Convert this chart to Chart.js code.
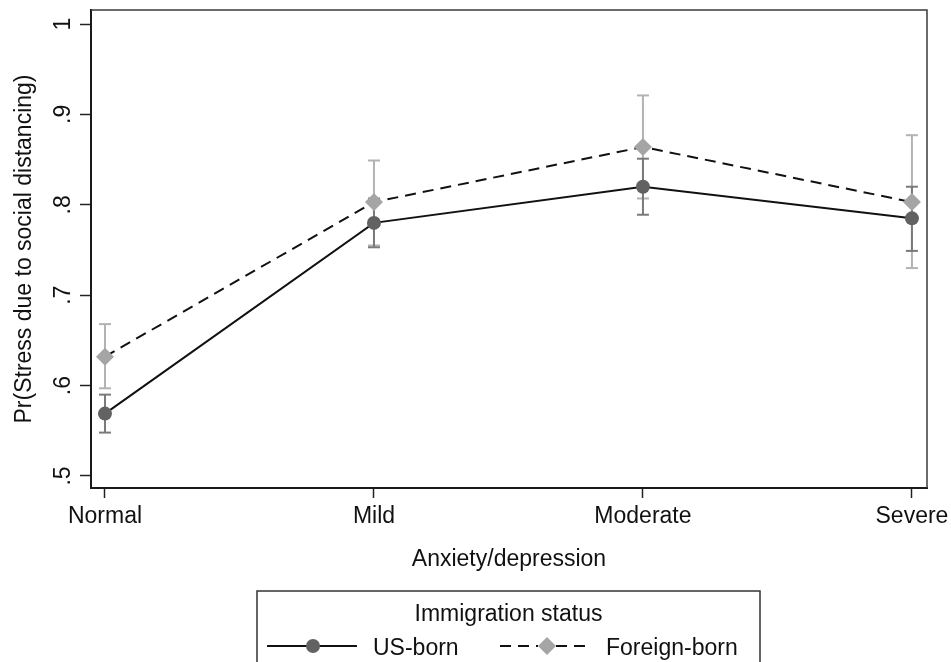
<!DOCTYPE html>
<html>
<head>
<meta charset="utf-8">
<script src="https://cdn.jsdelivr.net/npm/chart.js@4/dist/chart.umd.min.js"></script>
<style>
  html, body { margin: 0; padding: 0; background: #fff; }
  #wrap { width: 951px; height: 662px; position: relative; }
</style>
</head>
<body>
<div id="wrap"><canvas id="c" width="951" height="662"></canvas></div>
<script>
// Predicted probability of stress by anxiety/depression level and immigration status
const categories = ['Normal', 'Mild', 'Moderate', 'Severe'];
const usBorn     = [0.569, 0.780, 0.820, 0.785];
const usBornLo   = [0.548, 0.753, 0.789, 0.749];
const usBornHi   = [0.590, 0.807, 0.851, 0.820];
const foreignBorn   = [0.632, 0.803, 0.864, 0.803];
const foreignBornLo = [0.597, 0.755, 0.807, 0.730];
const foreignBornHi = [0.668, 0.849, 0.921, 0.877];
const yTicks = [0.5, 0.6, 0.7, 0.8, 0.9, 1];
const seriesNames = ['US-born', 'Foreign-born'];
const legendTitle = 'Immigration status';
const xTitle = 'Anxiety/depression';
const yTitle = 'Pr(Stress due to social distancing)';

const FONT = '"Liberation Sans", Arial, Helvetica, sans-serif';
const US_MARK = '#626262';
const FB_MARK = '#a5a5a5';
const US_CI = '#7a7a7a';
const FB_CI = '#b3b3b3';

function points(vals) {
  return vals.map((v, i) => ({ x: i, y: v }));
}
function ciSegments(lo, hi) {
  const out = [];
  lo.forEach((l, i) => {
    out.push({ x: i, y: l }, { x: i, y: hi[i] }, { x: i, y: null });
  });
  return out;
}
function yLabel(v) {
  return v === 1 ? '1' : v.toFixed(1).replace(/^0/, '');
}

// Rotated y tick labels, plot frame and legend box
const decorations = {
  id: 'decorations',
  afterDraw(chart) {
    const { ctx, chartArea: a, scales } = chart;
    ctx.save();
    // frame: top and right edges
    ctx.strokeStyle = '#3a3a3a';
    ctx.lineWidth = 1.5;
    ctx.beginPath();
    ctx.moveTo(a.left, a.top);
    ctx.lineTo(a.right, a.top);
    ctx.lineTo(a.right, a.bottom);
    ctx.stroke();

    // y tick labels, reading bottom to top
    ctx.fillStyle = '#111';
    ctx.font = '23px ' + FONT;
    ctx.textAlign = 'center';
    ctx.textBaseline = 'alphabetic';
    scales.y.ticks.forEach(t => {
      const py = scales.y.getPixelForValue(t.value);
      ctx.save();
      ctx.translate(70, py);
      ctx.rotate(-Math.PI / 2);
      ctx.fillText(yLabel(t.value), 0, 0);
      ctx.restore();
    });

    // legend
    ctx.strokeStyle = '#333';
    ctx.lineWidth = 1.5;
    ctx.strokeRect(257, 591, 503, 120);
    ctx.textAlign = 'center';
    ctx.fillText(legendTitle, 508.5, 621);

    const ly = 646;
    ctx.strokeStyle = '#111';
    ctx.lineWidth = 2;
    ctx.beginPath();
    ctx.moveTo(267, ly); ctx.lineTo(357, ly);
    ctx.stroke();
    ctx.fillStyle = US_MARK;
    ctx.beginPath();
    ctx.arc(313, ly, 7, 0, Math.PI * 2);
    ctx.fill();

    ctx.setLineDash([11, 7]);
    ctx.beginPath();
    ctx.moveTo(500, ly); ctx.lineTo(538, ly);
    ctx.stroke();
    ctx.beginPath();
    ctx.moveTo(556, ly); ctx.lineTo(592, ly);
    ctx.stroke();
    ctx.setLineDash([]);
    ctx.fillStyle = FB_MARK;
    ctx.beginPath();
    ctx.moveTo(547, ly - 9); ctx.lineTo(556, ly); ctx.lineTo(547, ly + 9); ctx.lineTo(538, ly);
    ctx.closePath();
    ctx.fill();

    ctx.fillStyle = '#111';
    ctx.textAlign = 'left';
    ctx.fillText(seriesNames[0], 373, 655);
    ctx.fillText(seriesNames[1], 606, 655);
    ctx.restore();
  }
};

new Chart(document.getElementById('c'), {
  type: 'line',
  data: {
    datasets: [
      {
        label: seriesNames[0],
        data: points(usBorn),
        borderColor: '#111',
        borderWidth: 2,
        pointStyle: 'circle',
        pointRadius: 7,
        pointBackgroundColor: US_MARK,
        pointBorderWidth: 0,
        order: 1
      },
      {
        label: seriesNames[1],
        data: points(foreignBorn),
        borderColor: '#111',
        borderWidth: 2,
        borderDash: [11, 7],
        pointStyle: 'rectRot',
        pointRadius: 9,
        pointBackgroundColor: FB_MARK,
        pointBorderWidth: 0,
        order: 2
      },
      {
        label: 'US-born CI',
        data: ciSegments(usBornLo, usBornHi),
        borderColor: US_CI,
        borderWidth: 2,
        pointStyle: 'line',
        pointRadius: 6,
        pointBorderColor: US_CI,
        pointBorderWidth: 2,
        spanGaps: false,
        order: 3
      },
      {
        label: 'Foreign-born CI',
        data: ciSegments(foreignBornLo, foreignBornHi),
        borderColor: FB_CI,
        borderWidth: 2,
        pointStyle: 'line',
        pointRadius: 6,
        pointBorderColor: FB_CI,
        pointBorderWidth: 2,
        spanGaps: false,
        order: 4
      }
    ]
  },
  options: {
    responsive: false,
    animation: false,
    events: [],
    layout: { padding: { top: 10, right: 24, bottom: 84, left: 0 } },
    plugins: { legend: { display: false }, tooltip: { enabled: false } },
    scales: {
      x: {
        type: 'linear',
        min: -0.052,
        max: 3.056,
        afterBuildTicks: s => { s.ticks = categories.map((c, i) => ({ value: i })); },
        afterFit: s => { s.height = 90; s.paddingLeft = 0; s.paddingRight = 0; },
        ticks: {
          callback: v => categories[v],
          font: { family: FONT, size: 23 },
          color: '#111',
          padding: 5,
          maxRotation: 0,
          autoSkip: false
        },
        grid: { drawOnChartArea: false, tickLength: 10, tickColor: '#222', tickWidth: 1.5 },
        border: { color: '#1a1a1a', width: 2 },
        title: {
          display: true,
          text: xTitle,
          font: { family: FONT, size: 23 },
          color: '#111',
          padding: { top: 0, bottom: 5 }
        }
      },
      y: {
        min: 0.4867,
        max: 1.0155,
        afterBuildTicks: s => { s.ticks = yTicks.map(v => ({ value: v })); },
        afterFit: s => { s.width = 91; },
        ticks: { display: false },
        grid: { drawOnChartArea: false, tickLength: 11, tickColor: '#222', tickWidth: 1.5 },
        border: { color: '#1a1a1a', width: 2 },
        title: {
          display: true,
          text: yTitle,
          font: { family: FONT, size: 23 },
          color: '#111',
          padding: { top: 11, bottom: 0 }
        }
      }
    }
  },
  plugins: [decorations]
});
</script>
</body>
</html>
